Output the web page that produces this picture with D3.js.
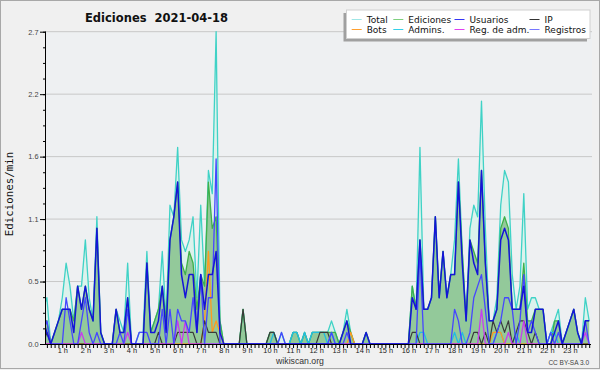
<!DOCTYPE html>
<html><head><meta charset="utf-8">
<script src="https://cdn.jsdelivr.net/npm/d3@7"></script>
<style>body{margin:0;background:#f0f0f0}svg{display:block}</style>
</head><body><svg id="c" width="600" height="370"></svg>
<script>
// 10-minute bins, edits per minute (144 values, 00:00 .. 23:50)
const total = [
0.3,0.3,0.4,0,0.1,0.2, 0.4,0.7,0.5,0.2,0.5,0.5, 0.9,0.4,0.2,1.1,0.1,0, 0,0,0.3,0.2,0.1,0.7,
0,0,0.1,0.1,0.8,0.1, 0.2,0.3,0.8,0.2,1.2,1.1, 1.7,0.9,0.8,0.9,1.1,0.4, 1.2,0.5,1.5,1.3,2.7,0.2,
0,0,0,0,0,0.3, 0,0,0,0,0,0, 0.1,0.1,0,0.1,0,0, 0.1,0.1,0,0.1,0,0.1,
0.1,0.1,0.1,0.1,0.2,0.1, 0,0.1,0.3,0.1,0,0, 0,0.1,0,0,0,0, 0,0,0,0,0,0,
0,0.5,0.3,1.7,0.3,0.3, 0.4,1.1,0.4,0.8,0.4,0.6, 0.9,1.6,0.8,0.2,1.0,1.2, 1.1,2.1,1.0,0.2,0.2,0.4,
1.2,1.5,1.4,0.6,0.3,0.5, 1.3,0.3,0.4,0.4,0.3,0.3, 0,0.1,0.2,0.3,0,0.1, 0.2,0.3,0.1,0,0.4,0.2];
const ediciones = [
0.2,0.2,0.2,0,0.1,0.2, 0.3,0.3,0.3,0.2,0.5,0.3, 0.5,0.3,0.2,1.0,0.1,0, 0,0,0.3,0.1,0.1,0.4,
0,0,0,0,0.7,0.1, 0.2,0.3,0.5,0.2,0.9,1.1, 1.4,0.7,0.6,0.8,0.7,0.3, 0.6,0.5,1.4,1.0,1.1,0.2,
0,0,0,0,0,0.3, 0,0,0,0,0,0, 0.1,0.1,0,0,0,0, 0.1,0.1,0,0.1,0,0.1,
0.1,0.1,0.1,0.1,0.1,0.1, 0,0.1,0.2,0.1,0,0, 0,0.1,0,0,0,0, 0,0,0,0,0,0,
0,0.5,0.3,0.9,0.3,0.3, 0.4,1.1,0.4,0.8,0.4,0.6, 0.6,1.4,0.8,0.2,0.9,0.8, 0.7,1.5,0.7,0.2,0.2,0.3,
1.0,1.1,1.0,0.3,0.3,0.3, 0.7,0.2,0.2,0.3,0.3,0.3, 0,0,0.2,0.2,0,0.1, 0.2,0.3,0.1,0,0.2,0.2];
const usuarios = [
0.2,0.2,0.1,0,0.1,0.2, 0.3,0.3,0.3,0.1,0.5,0.3, 0.5,0.3,0.2,1.0,0.1,0, 0,0,0.3,0.1,0.1,0.4,
0,0,0,0,0.7,0.1, 0.1,0.2,0.5,0.1,0.9,1.1, 1.4,0.6,0.4,0.6,0.6,0.1, 0.6,0.3,0.6,0.6,0.8,0.1,
0,0,0,0,0,0, 0,0,0,0,0,0, 0,0,0,0,0,0, 0,0,0,0,0,0,
0,0,0,0,0,0, 0,0.1,0.2,0,0,0, 0,0.1,0,0,0,0, 0,0,0,0,0,0,
0,0.4,0.3,0.9,0.3,0.3, 0.4,1.1,0.4,0.8,0.4,0.6, 0.6,1.4,0.7,0.2,0.9,0.7, 0.6,1.5,0.7,0.2,0.2,0.3,
0.9,1.0,0.9,0.3,0.3,0.3, 0.5,0.1,0.1,0.3,0.3,0.3, 0,0,0.1,0.2,0,0.1, 0.2,0.3,0.1,0,0.2,0.2];
const ip = [
0,0,0.1,0,0,0, 0,0,0,0,0,0, 0,0,0,0,0,0, 0,0,0,0,0,0,
0,0,0,0,0,0, 0,0.1,0,0,0,0, 0.1,0.1,0.1,0.1,0.1,0, 0,0.2,0.1,0.1,0.1,0,
0,0,0,0,0,0.3, 0,0,0,0,0,0, 0.1,0.1,0,0,0,0, 0,0,0,0,0,0,
0,0.1,0.1,0.1,0,0, 0,0,0,0,0,0, 0,0,0,0,0,0, 0,0,0,0,0,0,
0,0.1,0.1,0,0,0, 0,0,0,0,0,0, 0,0,0,0,0,0.1, 0.1,0,0.1,0,0.2,0.1,
0.2,0.1,0.2,0,0.1,0.2, 0.2,0.1,0,0.1,0,0, 0,0,0,0,0,0, 0,0,0,0,0,0];
const bots = [
0,0,0,0,0,0, 0,0,0,0,0,0, 0,0,0,0,0,0, 0,0,0,0,0,0,
0,0,0,0,0,0, 0,0,0,0,0,0, 0,0,0,0,0,0, 0,0.2,0.8,0.1,0.2,0.1,
0,0,0,0,0,0, 0,0,0,0,0,0, 0,0,0,0,0,0, 0,0,0,0,0,0,
0,0,0,0,0,0, 0,0,0,0.1,0,0, 0,0,0,0,0,0, 0,0,0,0,0,0,
0,0,0,0,0,0, 0,0,0,0,0,0, 0,0,0,0,0,0, 0,0,0,0,0.1,0.1,
0.1,0,0,0,0,0, 0,0,0,0,0,0, 0,0,0,0,0,0, 0,0,0,0,0,0];
const admins = [
0,0,0,0,0,0, 0,0,0,0,0,0, 0,0,0,0,0,0, 0,0,0,0,0,0,
0,0,0,0,0,0, 0,0,0,0,0,0, 0,0,0,0,0,0, 0,0,0,0,0,0,
0,0,0,0,0,0, 0,0,0,0,0,0, 0,0.1,0,0,0,0, 0.1,0.1,0,0.1,0,0.1,
0.1,0.1,0.1,0,0.1,0, 0,0,0,0,0,0, 0,0,0,0,0,0, 0,0,0,0,0,0,
0,0,0,0.1,0.1,0, 0,0,0,0,0,0, 0.1,0,0.1,0,0,0, 0,0,0,0,0,0.1,
0.1,0,0,0,0.1,0, 0,0,0,0,0,0, 0,0.1,0.1,0,0,0, 0,0,0,0,0,0];
const regAdm = [
0,0,0,0,0,0, 0,0,0,0,0,0.1, 0,0,0,0,0,0, 0,0,0,0,0,0.1,
0,0,0,0,0,0, 0,0,0,0,0,0, 0.2,0,0.2,0,0,0, 0,0,0,0,0,0,
0,0,0,0,0,0, 0,0,0,0,0,0, 0,0,0,0,0,0, 0,0,0,0,0,0,
0,0,0,0,0,0, 0,0,0,0,0,0, 0,0,0,0,0,0, 0,0,0,0,0,0,
0,0,0,0,0,0, 0,0,0,0,0,0, 0,0,0,0,0,0, 0,0.3,0,0,0,0,
0,0,0.1,0,0,0, 0.2,0,0,0,0,0, 0,0,0,0,0,0, 0,0,0,0,0.1,0];
const registros = [
0.1,0.1,0.2,0,0,0, 0,0.4,0.2,0,0,0.2, 0.4,0.1,0,0.1,0,0, 0,0,0,0.1,0,0.3,
0,0,0.1,0.1,0.1,0, 0,0,0.3,0,0.3,0, 0.3,0.2,0.2,0.1,0.4,0.1, 0.6,0,0.4,0.4,1.6,0,
0,0,0,0,0,0, 0,0,0,0,0,0, 0,0,0,0.1,0,0, 0,0,0,0,0,0,
0,0,0,0,0.1,0, 0,0,0.1,0,0,0, 0,0,0,0,0,0, 0,0,0,0,0,0,
0,0,0,0.8,0,0, 0,0,0,0,0,0, 0.3,0.2,0,0,0.1,0.4, 0.5,0.6,0.3,0,0,0.1,
0.2,0.4,0.4,0.3,0,0.2, 0.6,0.1,0.2,0.1,0,0, 0,0.1,0,0.1,0,0, 0,0,0,0,0.2,0];

const hourLabels = d3.range(1,24).map(h => h + " h");
const yTickValues = [0, 0.54, 1.08, 1.62, 2.16, 2.7];
const legendItems = [
  ["Total","#9fe6e6"],["Ediciones","#7fd07f"],["Usuarios","#3535f5"],["IP","#333333"],
  ["Bots","#ffa030"],["Admins.","#33d0e8"],["Reg. de adm.","#e040f0"],["Registros","#7777ff"]];

const svg = d3.select("#c");
const W = 600, H = 370;
const X0 = 46, X1 = 590, Y0 = 344, YT = 31.7;

svg.append("rect").attr("x",0.5).attr("y",0.5).attr("width",W-1).attr("height",H-2)
  .attr("fill","#f0f0f0").attr("stroke","#a8a8a8");
svg.append("rect").attr("x",X0).attr("y",YT).attr("width",X1-X0+2).attr("height",Y0-YT)
  .attr("fill","#eef0f2");

const x = d3.scaleLinear().domain([0,143]).range([39.2, 39.2 + 3.846*143]);
const y = d3.scaleLinear().domain([0,2.7]).range([Y0, YT]);

// grid
svg.append("g").selectAll("line").data(yTickValues.slice(1)).join("line")
  .attr("x1",X0).attr("x2",X1+2).attr("y1",d=>y(d)).attr("y2",d=>y(d))
  .attr("stroke","#c8c8c8").attr("stroke-width",1);

svg.append("clipPath").attr("id","clip").append("rect")
  .attr("x",X0).attr("y",0).attr("width",X1-X0+1).attr("height",Y0);
const plot = svg.append("g").attr("clip-path","url(#clip)");

const area = d3.area().x((d,i)=>x(i)).y0(y(0)).y1(d=>y(d));
const line = d3.line().x((d,i)=>x(i)).y(d=>y(d));

plot.append("path").datum(total).attr("d",area).attr("fill","#dcf2ec");
plot.append("path").datum(ediciones).attr("d",area).attr("fill","#93c99a");

const lines = [
  [total,"#3fd2c6",1.3],[ediciones,"#3fb04a",1.3],[admins,"#22bde0",1.3],[bots,"#ff9a20",1.3],
  [ip,"#3a3a3a",1.2],[regAdm,"#c83cf0",1.3],[registros,"#4646ff",1.3],[usuarios,"#1414d8",1.5]];
lines.forEach(([d,c,w]) => plot.append("path").datum(d).attr("d",line)
  .attr("fill","none").attr("stroke",c).attr("stroke-width",w).attr("stroke-linejoin","round"));

// axes
const xTicks = svg.append("g").attr("transform",`translate(0,${Y0})`)
  .call(d3.axisBottom(x).tickValues(d3.range(2,144)).tickSize(4).tickFormat("").tickSizeOuter(0));
xTicks.select(".domain").remove();
xTicks.selectAll("line").attr("stroke","#000");
const xLab = svg.append("g").attr("transform",`translate(0,${Y0})`)
  .call(d3.axisBottom(x).tickValues(d3.range(6,144,6).slice(0,23)).tickSize(0)
    .tickFormat((d,i)=>hourLabels[i]));
xLab.select(".domain").remove();
xLab.selectAll("text").attr("dy",0).attr("y",8.6).attr("font-family","Liberation Sans, Arial")
  .attr("font-size",7.4).attr("fill","#222");
svg.append("line").attr("x1",X0).attr("x2",X1+1).attr("y1",Y0+0.5).attr("y2",Y0+0.5).attr("stroke","#000");

const yMinor = svg.append("g").attr("transform",`translate(${X0},0)`)
  .call(d3.axisLeft(y).tickValues(d3.range(0,21).map(k=>k*0.135)).tickSize(3).tickFormat(""));
yMinor.select(".domain").remove();
const yAx = svg.append("g").attr("transform",`translate(${X0},0)`)
  .call(d3.axisLeft(y).tickValues(yTickValues).tickSize(6).tickFormat(d3.format(".1f")));
yAx.select(".domain").remove();
yAx.selectAll("text").attr("x",-7.5).attr("font-family","Liberation Sans, Arial")
  .attr("font-size",7.4).attr("fill","#444");
svg.append("line").attr("x1",X0-0.5).attr("x2",X0-0.5).attr("y1",YT).attr("y2",Y0+1).attr("stroke","#000");

// titles
svg.append("text").attr("x",85).attr("y",21.5).attr("font-family","DejaVu Sans")
  .attr("font-weight","bold").attr("font-size",11.5).attr("fill","#111")
  .style("white-space","pre").text("Ediciones  2021-04-18");
svg.append("text").attr("transform","translate(13,194) rotate(-90)").attr("text-anchor","middle")
  .attr("font-family","DejaVu Sans Mono").attr("font-size",10.8).attr("fill","#111").text("Ediciones/min");
svg.append("text").attr("x",300).attr("y",364).attr("text-anchor","middle")
  .attr("font-family","Liberation Sans, Arial").attr("font-size",8.7).attr("fill","#333").text("wikiscan.org");
svg.append("text").attr("x",589).attr("y",365).attr("text-anchor","end")
  .attr("font-family","Liberation Sans, Arial").attr("font-size",6.5).attr("fill","#444").text("CC BY-SA 3.0");

// legend
const lg = svg.append("g");
lg.append("rect").attr("x",343.5).attr("y",13).attr("width",243.5).attr("height",28.5).attr("fill","#a0a0a0");
lg.append("rect").attr("x",346.5).attr("y",10).attr("width",243.5).attr("height",28.5)
  .attr("fill","#fff").attr("stroke","#d0d0d0");
const colX = [351.7, 393.3, 454.5, 529.5];
legendItems.forEach(([name,c],k) => {
  const col = k % 4, row = Math.floor(k/4);
  const ly = 19.5 + row*10;
  lg.append("line").attr("x1",colX[col]).attr("x2",colX[col]+10).attr("y1",ly).attr("y2",ly)
    .attr("stroke",c).attr("stroke-width",1);
  lg.append("text").attr("x",colX[col]+15).attr("y",ly+3.5).attr("font-family","DejaVu Sans")
    .attr("font-size",9).attr("fill","#111").text(name);
});
</script></body></html>
